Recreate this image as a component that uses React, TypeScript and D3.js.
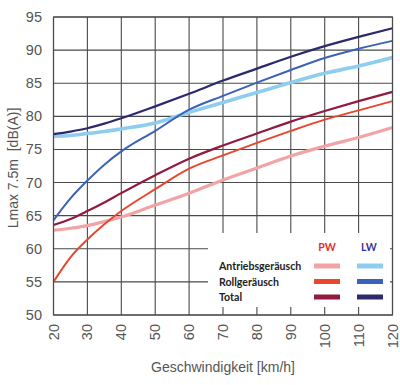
import * as d3 from "d3";
import { useEffect, useRef } from "react";

// speeds in km/h
const speeds = [20, 25, 30, 35, 40, 50, 60, 70, 80, 90, 100, 110, 120];

// PW = Personenwagen, LW = Lastwagen
const pwAntrieb = [62.8, 63.1, 63.5, 64.1, 64.8, 66.6, 68.4, 70.4, 72.2, 74.0, 75.5, 76.8, 78.3];
const pwRoll = [55.0, 58.7, 61.4, 63.7, 65.7, 69.0, 72.1, 74.1, 76.0, 77.8, 79.5, 80.9, 82.3];
const pwTotal = [63.6, 64.5, 65.7, 67.0, 68.4, 71.1, 73.6, 75.6, 77.4, 79.2, 80.8, 82.3, 83.7];
const lwAntrieb = [77.0, 77.1, 77.4, 77.7, 78.1, 79.0, 80.6, 82.1, 83.6, 85.1, 86.5, 87.6, 88.9];
const lwRoll = [64.3, 67.6, 70.3, 72.7, 74.7, 77.8, 81.0, 83.1, 85.1, 87.0, 88.8, 90.2, 91.4];
const lwTotal = [77.3, 77.7, 78.2, 78.9, 79.7, 81.5, 83.4, 85.4, 87.2, 89.0, 90.6, 92.0, 93.3];

const xTicks = [20, 30, 40, 50, 60, 70, 80, 90, 100, 110, 120];
const yTicks = [50, 55, 60, 65, 70, 75, 80, 85, 90, 95];

const legendRows = ["Antriebsgeräusch", "Rollgeräusch", "Total"];

const series = [
  { values: pwAntrieb, color: "#f2a3a6", width: 3.2 },
  { values: pwRoll, color: "#e8472d", width: 2 },
  { values: pwTotal, color: "#921a3c", width: 2.2 },
  { values: lwAntrieb, color: "#8fcdee", width: 3.6 },
  { values: lwRoll, color: "#3b62b8", width: 2 },
  { values: lwTotal, color: "#2c2a6c", width: 2.2 },
];

const App = () => {
  const ref = useRef<SVGSVGElement>(null);

  useEffect(() => {
    const svg = d3.select(ref.current);
    svg.selectAll("*").remove();

    const x = d3.scaleLinear().domain([20, 120]).range([53.5, 392.5]);
    const y = d3.scaleLinear().domain([50, 95]).range([315, 17]);
    const grid = "#4a4a4a";
    const tickFont = "'Liberation Sans', Arial, sans-serif";

    svg.append("rect").attr("width", 400).attr("height", 385).attr("fill", "#fff");

    // grid
    svg.append("g").selectAll("line").data(xTicks).enter().append("line")
      .attr("x1", (d) => x(d)).attr("x2", (d) => x(d))
      .attr("y1", y(95)).attr("y2", y(50))
      .attr("stroke", grid).attr("stroke-width", 1.1);
    svg.append("g").selectAll("line").data(yTicks).enter().append("line")
      .attr("x1", x(20)).attr("x2", x(120))
      .attr("y1", (d) => y(d)).attr("y2", (d) => y(d))
      .attr("stroke", grid).attr("stroke-width", 1.1);

    // curves
    const line = d3.line<number>()
      .x((_, i) => x(speeds[i]))
      .y((d) => y(d))
      .curve(d3.curveMonotoneX);
    series.forEach((s) => {
      svg.append("path")
        .attr("d", line(s.values))
        .attr("fill", "none")
        .attr("stroke", s.color)
        .attr("stroke-width", s.width)
        .attr("stroke-linejoin", "round");
    });

    // legend box
    const lg = svg.append("g");
    lg.append("rect")
      .attr("x", 208).attr("y", 233)
      .attr("width", 182).attr("height", 74)
      .attr("fill", "#fff");
    const legendFont = "Lato, 'Open Sans', sans-serif";
    lg.append("text").attr("x", 327).attr("y", 251).attr("text-anchor", "middle")
      .attr("font-family", legendFont).attr("font-weight", "bold").attr("font-size", 10.5)
      .attr("fill", "#e3302c").text("PW");
    lg.append("text").attr("x", 369).attr("y", 251).attr("text-anchor", "middle")
      .attr("font-family", legendFont).attr("font-weight", "bold").attr("font-size", 10.5)
      .attr("fill", "#3b3594").text("LW");
    legendRows.forEach((label, i) => {
      const cy = 266 + i * 15.5;
      lg.append("text").attr("x", 219).attr("y", cy + 4)
        .attr("font-family", legendFont).attr("font-weight", "bold").attr("font-size", 10.6)
        .attr("fill", "#222").text(label);
      lg.append("rect").attr("x", 314).attr("y", cy - 2.5).attr("width", 26).attr("height", 5)
        .attr("fill", series[i].color);
      lg.append("rect").attr("x", 357).attr("y", cy - 2.5).attr("width", 26).attr("height", 5)
        .attr("fill", series[i + 3].color);
    });

    // frame
    svg.append("rect")
      .attr("x", x(20)).attr("y", y(95))
      .attr("width", x(120) - x(20)).attr("height", y(50) - y(95))
      .attr("fill", "none").attr("stroke", grid).attr("stroke-width", 1.2);

    // y tick labels
    svg.append("g").selectAll("text").data(yTicks).enter().append("text")
      .attr("x", 42).attr("y", (d) => y(d) + 5)
      .attr("text-anchor", "end")
      .attr("font-family", tickFont).attr("font-size", 14.5)
      .attr("fill", "#555").text((d) => d);

    // x tick labels (rotated)
    svg.append("g").selectAll("text").data(xTicks).enter().append("text")
      .attr("transform", (d) => `translate(${x(d) + 5},324) rotate(-90)`)
      .attr("text-anchor", "end")
      .attr("font-family", tickFont).attr("font-size", 14.5)
      .attr("fill", "#555").text((d) => d);

    // axis titles
    svg.append("text")
      .attr("x", 223).attr("y", 372).attr("text-anchor", "middle")
      .attr("font-family", tickFont).attr("font-size", 14)
      .attr("fill", "#555").text("Geschwindigkeit [km/h]");
    svg.append("text")
      .attr("transform", "translate(18,168) rotate(-90)")
      .attr("text-anchor", "middle")
      .attr("font-family", tickFont).attr("font-size", 14)
      .attr("xml:space", "preserve")
      .attr("fill", "#555").text("Lmax 7.5m  [dB(A)]");
  }, []);

  return (
    <svg ref={ref} width={400} height={385}
      style={{ position: "absolute", left: 0, top: 0 }} />
  );
};

export default App;
